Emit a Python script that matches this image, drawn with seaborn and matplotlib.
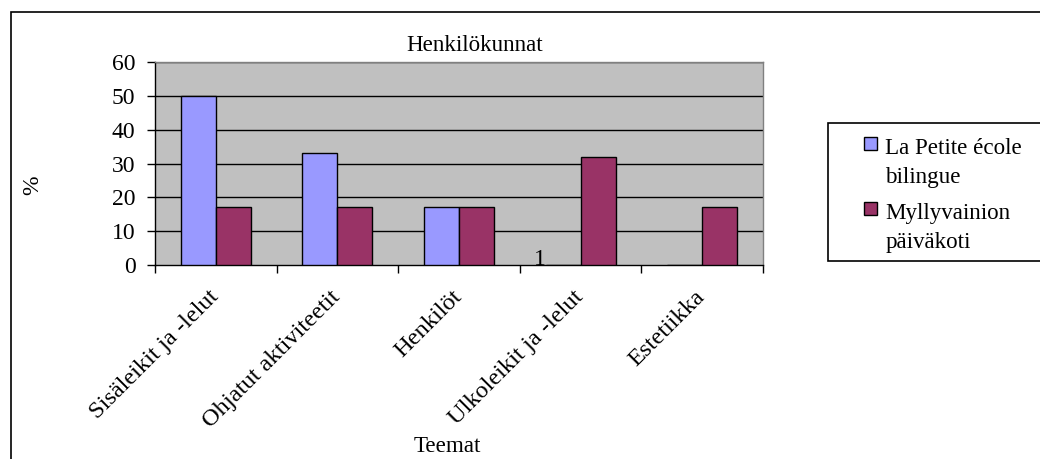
import matplotlib
matplotlib.use("Agg")
import matplotlib.pyplot as plt
from matplotlib.patches import Rectangle
from matplotlib.legend_handler import HandlerPatch
from matplotlib.transforms import ScaledTranslation
import seaborn as sns
import pandas as pd

# Theme categories and the share (%) reported for each day-care unit
categories = ["Sisäleikit ja -lelut", "Ohjatut aktiviteetit", "Henkilöt",
              "Ulkoleikit ja -lelut", "Estetiikka"]
series_names = ["La Petite école\nbilingue", "Myllyvainion\npäiväkoti"]
petite_ecole = [50, 33, 17, 0, 0]
myllyvainio = [17, 17, 17, 32, 17]
y_ticks = [0, 10, 20, 30, 40, 50, 60]
colors = ["#9999FF", "#993366"]

df = pd.DataFrame({
    "Teema": categories * 2,
    "Yksikkö": [series_names[0]] * len(categories) + [series_names[1]] * len(categories),
    "Osuus": petite_ecole + myllyvainio,
})

sns.set_style("white")
plt.rcParams["font.family"] = ["Liberation Serif", "DejaVu Serif"]
for key in ["text.color", "axes.labelcolor", "xtick.color", "ytick.color"]:
    plt.rcParams[key] = "black"
FS = 17
XFS = 17.6
LFS = 16.6

fig = plt.figure(figsize=(10.4, 4.59), dpi=100)
ax = fig.add_axes([155 / 1040, 1 - 265 / 459, 608 / 1040, 203 / 459])
ax.set_facecolor("#C0C0C0")

sns.barplot(data=df, x="Teema", y="Osuus", hue="Yksikkö", palette=colors,
            saturation=1, width=0.576, gap=0, edgecolor="black", linewidth=1.0,
            errorbar=None, ax=ax, zorder=3, legend=True)

ax.set_xlim(-0.5, len(categories) - 0.5)
ax.set_ylim(0, 60)
ax.set_yticks(y_ticks)
ax.set_yticklabels([str(v) for v in y_ticks], fontsize=FS)
for v in y_ticks[1:]:
    ax.axhline(v, color="black", lw=1.0, zorder=1)

# category labels at centres, tick marks at category boundaries
ax.set_xticks(range(len(categories)))
ax.set_xticklabels(categories, rotation=45, ha="right", va="top",
                   rotation_mode="anchor", fontsize=XFS)
ax.tick_params(axis="x", which="major", length=0, pad=15.5)
shift = ScaledTranslation(-8 / 100, 0, fig.dpi_scale_trans)
for lab in ax.get_xticklabels():
    lab.set_transform(lab.get_transform() + shift)
ax.set_xticks([i - 0.5 for i in range(len(categories) + 1)], minor=True)
ax.tick_params(axis="x", which="minor", length=6, width=1, color="black",
               direction="out", bottom=True)
ax.tick_params(axis="y", length=6, width=1, color="black", direction="out",
               left=True, pad=8)

for side in ["left", "bottom"]:
    ax.spines[side].set_color("black")
    ax.spines[side].set_linewidth(1.0)
for side in ["top", "right"]:
    ax.spines[side].set_color("#808080")
    ax.spines[side].set_linewidth(1.0)

ax.set_xlabel("")
ax.set_ylabel("")

# stray value label in the outdoor-play group
ax.text(3 - 0.333, 0, "1", ha="center", va="baseline", fontsize=FS, zorder=4)

fig.text(475 / 1040, 1 - 51 / 459, "Henkilökunnat", ha="center",
         va="baseline", fontsize=LFS)
fig.text(33 / 1040, 1 - 185 / 459, "%", rotation=90, ha="center",
         va="center", fontsize=FS)
fig.text(447 / 1040, 1 - 452 / 459, "Teemat", ha="center", va="baseline",
         fontsize=LFS)


# legend swatch sits level with the first line of its label
def top_square(legend, orig_handle, xdescent, ydescent, width, height, fontsize):
    side = 0.57 * fontsize
    return Rectangle((width - xdescent - side, height - ydescent - side * 0.55),
                     side, side)


# legend box, open on the right like the chart border
fig.add_artist(Rectangle((828 / 1040, 1 - 261 / 459), 0.3, 138 / 459,
                         transform=fig.transFigure, facecolor="white",
                         edgecolor="black", lw=1.2, zorder=2))

handles, labels = ax.get_legend_handles_labels()
ax.get_legend().remove()
leg = fig.legend(handles, labels, loc="upper left",
                 bbox_to_anchor=(828 / 1040, 1 - 129 / 459, 0.3, 0.0),
                 mode="expand", borderaxespad=0, fontsize=LFS, frameon=False,
                 handlelength=1.73, handleheight=2.45, handletextpad=0.35,
                 labelspacing=0.69, borderpad=0.4,
                 handler_map={Rectangle: HandlerPatch(patch_func=top_square)})
leg.set_zorder(3)
for t in leg.get_texts():
    t.set_linespacing(1.46)
for h in leg.legend_handles:
    h.set_edgecolor("black")
    h.set_linewidth(1.0)

# outer chart border (open to the right and bottom)
fig.add_artist(Rectangle((11 / 1040, -0.1), 1.2, 1.0 + 0.1 - 12 / 459,
                         transform=fig.transFigure, fill=False,
                         edgecolor="black", lw=1.2))

fig.savefig("out.png", dpi=100)
